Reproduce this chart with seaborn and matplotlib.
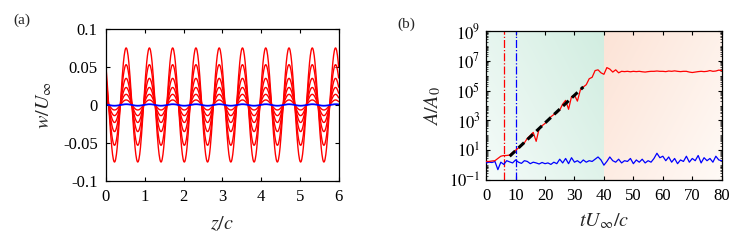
import matplotlib.pyplot as plt
import matplotlib.ticker as mticker
import numpy as np
import seaborn as sns

# ---- panel (a): spanwise velocity profiles ----
z_grid = np.linspace(0, 6, 601)
red_amplitudes = [0.075, 0.053, 0.035, 0.023, 0.014, 0.0066]
blue_amplitude = 0.001
wave_period = 0.6       # z/c between peaks
first_peak = 0.52       # z/c of first crest

# ---- panel (b): amplitude growth (values read as log10 A/A0) ----
t_vals = list(range(0, 81))
red_log = [0.25, 0.25, 0.28, 0.3, 0.45, 0.6, 0.65, 0.65, 0.68, 0.85,
           1.0, 1.15, 1.3, 1.5, 1.8, 2.0, 2.2, 1.6, 2.45, 2.65,
           2.8, 3.0, 3.25, 3.4, 3.5, 3.7, 4.1, 4.35, 3.75, 4.6,
           4.7, 4.3, 5.05, 5.25, 5.4, 5.8, 5.9, 6.35, 6.4, 6.2,
           6.1, 6.55, 6.45, 6.25, 6.4, 6.2, 6.3, 6.28, 6.3, 6.27,
           6.3, 6.28, 6.3, 6.27, 6.25, 6.28, 6.3, 6.3, 6.32, 6.3,
           6.3, 6.28, 6.32, 6.3, 6.33, 6.3, 6.28, 6.3, 6.3, 6.25,
           6.22, 6.25, 6.28, 6.3, 6.28, 6.3, 6.35, 6.3, 6.32, 6.38,
           6.35]
blue_log = [0.15, 0.2, 0.18, 0.25, -0.3, 0.2, 0.05, 0.3, 0.22, 0.15,
            0.35, 0.2, 0.12, 0.3, 0.25, 0.1, 0.2, 0.15, 0.08, 0.18,
            0.1, 0.15, 0.05, 0.2, 0.1, 0.4, 0.15, 0.45, 0.1, 0.5,
            0.2, 0.3, 0.15, 0.35, 0.2, 0.3, 0.25, 0.4, 0.55, 0.35,
            0.0, 0.25, 0.55, 0.3, 0.2, 0.4, 0.15, 0.3, 0.25, 0.45,
            0.1, 0.35, 0.2, 0.4, 0.15, 0.3, 0.2, 0.45, 0.8, 0.5,
            0.6, 0.3, 0.55, 0.2, 0.45, 0.1, 0.35, 0.25, 0.6, 0.2,
            0.45, 0.3, 0.65, 0.15, 0.5, 0.3, 0.45, 0.2, 0.6, 0.35,
            0.3]
fit_t = [8, 33]
fit_log = [0.6, 5.25]
t_onset_red = 6.2
t_onset_blue = 10.0
t_saturation = 40

sns.set_theme(style='ticks')
plt.rcParams['font.family'] = ['Liberation Serif', 'DejaVu Serif']
plt.rcParams['mathtext.fontset'] = 'stix'
plt.rcParams['xtick.direction'] = 'in'
plt.rcParams['ytick.direction'] = 'in'

fig = plt.figure(figsize=(7.41, 2.43), dpi=100)
ax1 = fig.add_axes([0.143, 0.255, 0.314, 0.626])
ax2 = fig.add_axes([0.656, 0.259, 0.318, 0.613])

# panel (a)
for amp in red_amplitudes:
    w = amp * np.cos(2 * np.pi * (z_grid - first_peak) / wave_period)
    sns.lineplot(x=z_grid, y=w, ax=ax1, color='#ff0000', lw=1.0)
w_blue = blue_amplitude * np.cos(2 * np.pi * (z_grid - first_peak) / wave_period)
sns.lineplot(x=z_grid, y=w_blue, ax=ax1, color='#0000ff', lw=1.3)

ax1.set_xlim(0, 6)
ax1.set_ylim(-0.1, 0.1)
ax1.set_xticks(range(0, 7))
ax1.set_yticks([-0.1, -0.05, 0, 0.05, 0.1])
ax1.yaxis.set_major_formatter(mticker.FuncFormatter(lambda v, _: f'{v:g}'.replace('\u2212', '-')))
ax1.set_xlabel(r'$z/c$', fontsize=14.5, labelpad=7)
ax1.set_ylabel(r'$w/U_{\infty}$', fontsize=14.5, labelpad=6)

# panel (b) background shading
green_lo = np.array([0.96, 0.985, 0.975])
green_hi = np.array([0.82, 0.93, 0.88])
orange_hi = np.array([0.99, 0.89, 0.84])
orange_lo = np.array([1.0, 0.98, 0.965])
gx, gy = np.meshgrid(np.linspace(0, 1, 100), np.linspace(1, 0, 100))
wg = np.clip(0.6 * gx + 0.4 * gy, 0, 1)[..., None]
green_img = green_lo + (green_hi - green_lo) * wg
wo = np.clip(0.6 * (1 - gx) + 0.4 * gy, 0, 1)[..., None]
orange_img = orange_lo + (orange_hi - orange_lo) * wo
ax2.imshow(green_img, extent=[0, 0.5, 0, 1], transform=ax2.transAxes,
           aspect='auto', zorder=0, interpolation='bilinear')
ax2.imshow(orange_img, extent=[0.5, 1, 0, 1], transform=ax2.transAxes,
           aspect='auto', zorder=0, interpolation='bilinear')

ax2.set_yscale('log')
sns.lineplot(x=t_vals, y=10 ** np.array(blue_log), ax=ax2, color='#0000ff', lw=0.9, zorder=3)
sns.lineplot(x=t_vals, y=10 ** np.array(red_log), ax=ax2, color='#ff0000', lw=0.9, zorder=3)
ax2.plot(fit_t, 10 ** np.array(fit_log), color='black', lw=2.2, ls=(0, (2.5, 1.5)), zorder=4)
ax2.axvline(t_onset_red, color='#ff0000', lw=0.9, ls='-.', zorder=2)
ax2.axvline(t_onset_blue, color='#0000ff', lw=0.9, ls='-.', zorder=2)

ax2.set_xlim(0, 80)
ax2.set_ylim(1e-1, 1e9)
ax2.set_xticks(range(0, 81, 10))
ax2.set_yticks([10.0 ** k for k in range(-1, 10, 2)])
ax2.yaxis.set_major_formatter(mticker.FuncFormatter(lambda v, _: rf'$10^{{{int(round(np.log10(v)))}}}$'))
ax2.yaxis.set_minor_locator(mticker.LogLocator(base=10, subs=np.arange(1, 10), numticks=30))
ax2.yaxis.set_minor_formatter(mticker.NullFormatter())
ax2.set_xlabel(r'$tU_{\infty}/c$', fontsize=14.5, labelpad=5)
ax2.set_ylabel(r'$A/A_0$', fontsize=14.5, labelpad=4)

for ax in (ax1, ax2):
    ax.tick_params(which='both', top=True, right=True, labelsize=12, colors='black',
                   length=3, width=0.8, pad=6)
    ax.tick_params(which='minor', length=1.5, width=0.5)
    for sp in ax.spines.values():
        sp.set_color('black')
        sp.set_linewidth(0.9)
ax2.tick_params(axis='y', which='major', pad=4)

fig.text(0.018, 0.9, '(a)', fontsize=11)
fig.text(0.536, 0.885, '(b)', fontsize=11)

fig.savefig('out.png', dpi=100)
